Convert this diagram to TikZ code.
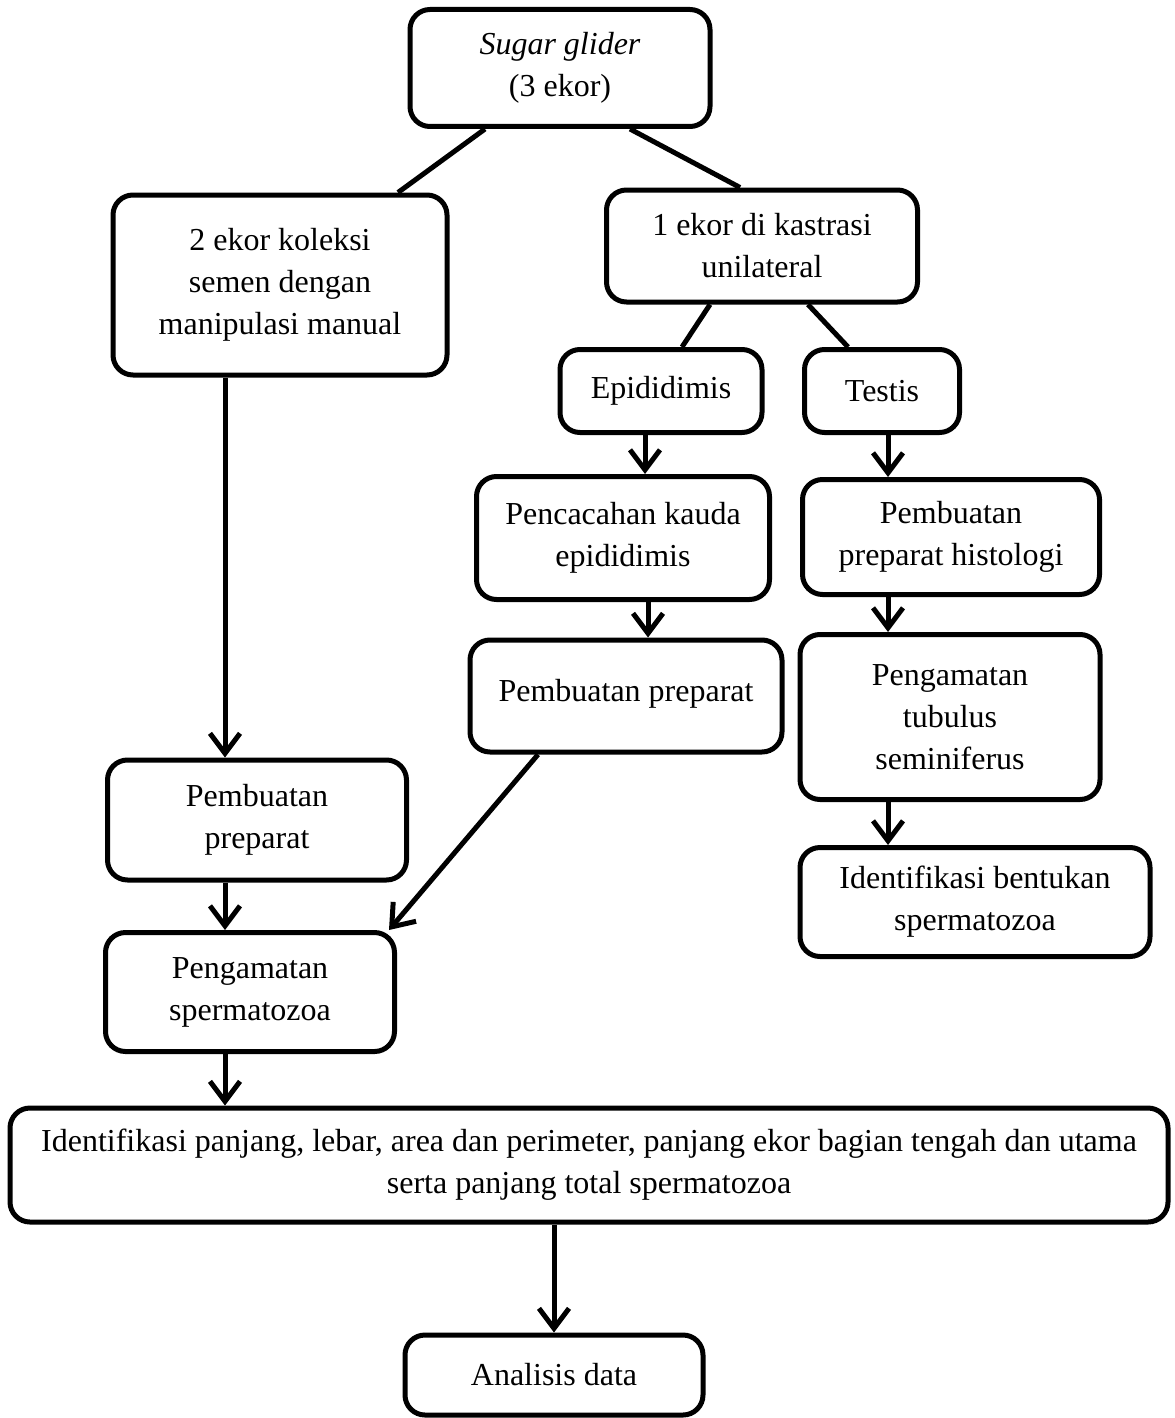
\documentclass[tikz,border=0pt]{standalone}
\usepackage{fontspec}
\setmainfont{Liberation Serif}
\usetikzlibrary{arrows.meta,calc}

\begin{document}
\begin{tikzpicture}[x=0.5pt,y=-0.5pt,font=\fontsize{16}{21}\selectfont,
  box/.style={draw,line width=2.5pt,rounded corners=10pt,align=center,inner sep=0pt},
  link/.style={line width=2.5pt},
  flow/.style={line width=2.5pt,-{Straight Barb[length=10pt,width=15pt,line width=2.5pt]}}]
\useasboundingbox (0,0) rectangle (1174,1418);
\node[box,minimum width=150pt,minimum height=58.5pt] (top) at (560,68) {\textit{Sugar glider}\\(3 ekor)};
\node[box,minimum width=167pt,minimum height=90pt] (koleksi) at (280,285) {2 ekor koleksi\\semen dengan\\manipulasi manual};
\node[box,minimum width=155.5pt,minimum height=56pt] (kastrasi) at (762,246) {1 ekor di kastrasi\\unilateral};
\node[box,minimum width=101pt,minimum height=41.5pt] (epi) at (661,391) {Epididimis};
\node[box,minimum width=77.5pt,minimum height=41.5pt] (testis) at (882,391) {Testis};
\node[box,minimum width=146.5pt,minimum height=61.5pt] (cacah) at (623,538) {Pencacahan kauda\\epididimis};
\node[box,minimum width=148.5pt,minimum height=57.5pt] (histo) at (951,537) {Pembuatan\\preparat histologi};
\node[box,minimum width=156pt,minimum height=56pt] (prepm) at (626,696) {\raisebox{6pt}{Pembuatan preparat}};
\node[box,minimum width=150pt,minimum height=82.5pt] (tubulus) at (950,717) {Pengamatan\\tubulus\\seminiferus};
\node[box,minimum width=175pt,minimum height=54.5pt] (bentuk) at (975,902) {\raisebox{-2pt}{Identifikasi bentukan}\\\raisebox{-2pt}{spermatozoa}};
\node[box,minimum width=149.5pt,minimum height=60pt] (prepl) at (257,820) {Pembuatan\\preparat};
\node[box,minimum width=144.5pt,minimum height=59.5pt] (amat) at (250,992) {Pengamatan\\spermatozoa};
\node[box,minimum width=579pt,minimum height=57pt] (ident) at (589,1165) {Identifikasi panjang, lebar, area dan perimeter, panjang ekor bagian tengah dan utama\\serta panjang total spermatozoa};
\node[box,minimum width=149pt,minimum height=40pt] (analisis) at (554,1375) {Analisis data};
\draw[link] ($(top.south)+(-75,0)$) -- ($(koleksi.north)+(118,0)$);
\draw[link] ($(top.south)+(70,0)$) -- ($(kastrasi.north)+(-22,0)$);
\draw[link] ($(kastrasi.south)+(-52,0)$) -- ($(epi.north)+(21,0)$);
\draw[link] ($(kastrasi.south)+(46,0)$) -- ($(testis.north)+(-34,0)$);
\coordinate (a1) at ($(epi.south)+(-16,0)$);
\coordinate (a2) at ($(testis.south)+(6,0)$);
\coordinate (a3) at ($(cacah.south)+(25,0)$);
\coordinate (a4) at ($(histo.south)+(-63,0)$);
\coordinate (a5) at ($(tubulus.south)+(-62,0)$);
\coordinate (a6) at ($(koleksi.south)+(-55,0)$);
\coordinate (a7) at ($(prepl.south)+(-32,0)$);
\coordinate (a8) at ($(amat.south)+(-25,0)$);
\draw[flow] (a1) -- (a1 |- cacah.north);
\draw[flow] (a2) -- (a2 |- histo.north);
\draw[flow] (a3) -- (a3 |- prepm.north);
\draw[flow] (a4) -- (a4 |- tubulus.north);
\draw[flow] (a5) -- (a5 |- bentuk.north);
\draw[flow] (a6) -- (a6 |- prepl.north);
\draw[flow] (a7) -- (a7 |- amat.north);
\draw[flow] ($(prepm.south)+(-88,0)$) -- ($(amat.north east)+(-8,0)$);
\draw[flow] (a8) -- (a8 |- ident.north);
\draw[flow] (ident.south -| analisis.north) -- (analisis.north);
\end{tikzpicture}
\end{document}
